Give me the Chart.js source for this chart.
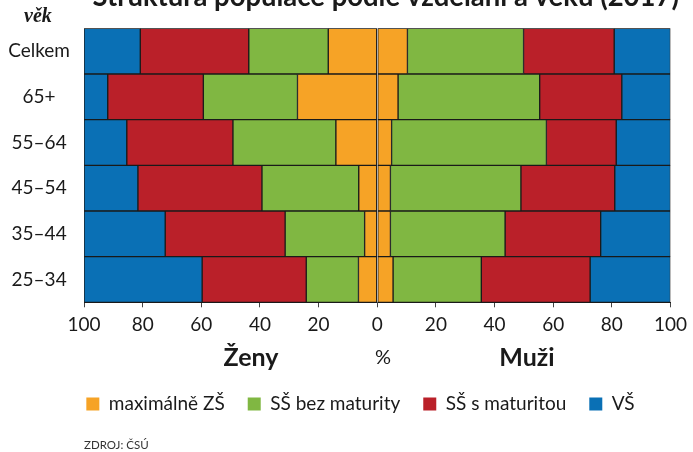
<!DOCTYPE html>
<html>
<head>
<meta charset="utf-8">
<script src="https://cdn.jsdelivr.net/npm/chart.js@4"></script>
<style>
  html, body { margin: 0; padding: 0; background: #fff; overflow: hidden; }
  #wrap { position: relative; width: 693px; height: 452px; overflow: hidden; }
  #c { position: absolute; left: 0; top: -20px; }
</style>
</head>
<body>
<div id="wrap"><canvas id="c" width="693" height="472"></canvas></div>
<script>
// ---- data ----
const categories = ['Celkem', '65+', '55–64', '45–54', '35–44', '25–34'];
const seriesLabels = ['maximálně ZŠ', 'SŠ bez maturity', 'SŠ s maturitou', 'VŠ'];
// women (left side, %)
const zsZeny  = [16.7, 27.2, 14.1, 6.3, 4.3, 6.4];
const bezZeny = [27.1, 32.1, 35.1, 33.0, 27.1, 17.8];
const sZeny   = [37.0, 32.6, 36.2, 42.3, 40.9, 35.5];
const vsZeny  = [19.2, 8.1, 14.6, 18.4, 27.7, 40.3];
// men (right side, %)
const zsMuzi  = [10.3, 7.1, 4.9, 4.5, 4.5, 5.4];
const bezMuzi = [39.6, 48.3, 52.8, 44.5, 39.1, 30.1];
const sMuzi   = [30.9, 28.0, 23.8, 32.0, 32.6, 37.1];
const vsMuzi  = [19.2, 16.6, 18.5, 19.0, 23.8, 27.4];
const xTicks = [-100, -80, -60, -40, -20, 0, 20, 40, 60, 80, 100];

const colors = ['#F6A326', '#80B742', '#BA2029', '#0A70B5'];
const FONT = 'Lato, "Noto Sans", sans-serif';

const women = [zsZeny, bezZeny, sZeny, vsZeny];
const men = [zsMuzi, bezMuzi, sMuzi, vsMuzi];

const datasets = [];
women.forEach((arr, i) => datasets.push({
  label: seriesLabels[i], data: arr.map(v => -v), backgroundColor: colors[i],
  borderColor: '#1a1a1a', borderWidth: 1, borderSkipped: false,
  barPercentage: 1, categoryPercentage: 1
}));
men.forEach((arr, i) => datasets.push({
  label: seriesLabels[i], data: arr.slice(), backgroundColor: colors[i],
  borderColor: '#1a1a1a', borderWidth: 1, borderSkipped: false,
  barPercentage: 1, categoryPercentage: 1
}));

// layout constants (canvas is shifted up by 20px)
const LEG_FONT = 19, LEG_PAD = 23, LEG_BOX = 13;
const SUB_FONT = 11.5, SUB_PT = 14.7;
const legendH = Math.max(LEG_FONT, LEG_BOX) + LEG_PAD + 10;
const subtitleH = SUB_FONT * 1.2 + SUB_PT;
const xAxisH = 472 - 48.3 - 274 - legendH - subtitleH;

const extraText = {
  id: 'extraText',
  afterLayout(chart) {
    const L = chart.legend;
    if (L) { L.left += 24; L.right += 24; }
    const T = chart.titleBlock;
    if (T) { T.left += 8.5; T.right += 8.5; }
  },
  afterDraw(chart) {
    const ctx = chart.ctx;
    ctx.save();
    ctx.fillStyle = '#1a1a1a';
    ctx.textAlign = 'center';
    ctx.textBaseline = 'alphabetic';
    ctx.font = 'bold 25px ' + FONT;
    ctx.fillText('Ženy', 251, 385.7);
    ctx.fillText('Muži', 527, 385.7);
    ctx.textBaseline = 'middle';
    ctx.font = '20px ' + FONT;
    ctx.fillText('%', 383, 377.8);
    ctx.textAlign = 'left';
    ctx.textBaseline = 'alphabetic';
    ctx.font = 'italic bold 20px "Liberation Serif", "DejaVu Serif", serif';
    ctx.fillText('věk', 24, 42);
    ctx.restore();
  }
};

new Chart(document.getElementById('c'), {
  type: 'bar',
  data: { labels: categories, datasets },
  plugins: [extraText],
  options: {
    indexAxis: 'y',
    responsive: false,
    animation: false,
    layout: { padding: { left: 0, right: 20, top: 0, bottom: 0 } },
    scales: {
      x: {
        stacked: true, min: -100, max: 100,
        afterBuildTicks: (s) => { s.ticks = xTicks.map(v => ({ value: v })); },
        afterFit: (s) => { s.height = xAxisH; },
        grid: { drawOnChartArea: false, drawTicks: true, tickLength: 5, color: '#444' },
        border: { display: true, color: '#1a1a1a' },
        ticks: {
          padding: 6, color: '#1a1a1a', maxRotation: 0, autoSkip: false,
          font: { family: FONT, size: 19 },
          callback: (v) => String(Math.abs(v))
        }
      },
      y: {
        stacked: true,
        afterFit: (s) => { s.width = 84; },
        grid: { display: false },
        border: { display: false },
        ticks: {
          padding: 6, crossAlign: 'center', color: '#1a1a1a',
          font: { family: FONT, size: 19 }
        }
      }
    },
    plugins: {
      tooltip: { enabled: false },
      title: {
        display: true, align: 'center', fullSize: false,
        text: 'Struktura populace podle vzdělání a věku (2017)',
        color: '#1a1a1a',
        font: { family: FONT, size: 28, weight: 'bold' },
        padding: { top: 0, bottom: 14.7 }
      },
      subtitle: {
        display: true, position: 'bottom', align: 'start', fullSize: false,
        text: 'ZDROJ: ČSÚ', color: '#333',
        font: { family: FONT, size: SUB_FONT },
        padding: { top: SUB_PT, bottom: 0 }
      },
      legend: {
        display: true, position: 'bottom',
        labels: {
          boxWidth: LEG_BOX, boxHeight: LEG_BOX, padding: LEG_PAD, color: '#1a1a1a',
          font: { family: FONT, size: LEG_FONT },
          generateLabels: (chart) => Chart.defaults.plugins.legend.labels.generateLabels(chart)
            .filter(l => l.datasetIndex < 4)
            .map(l => Object.assign({}, l, { lineWidth: 0, strokeStyle: 'rgba(0,0,0,0)' }))
        }
      }
    }
  }
});
</script>
</body>
</html>
